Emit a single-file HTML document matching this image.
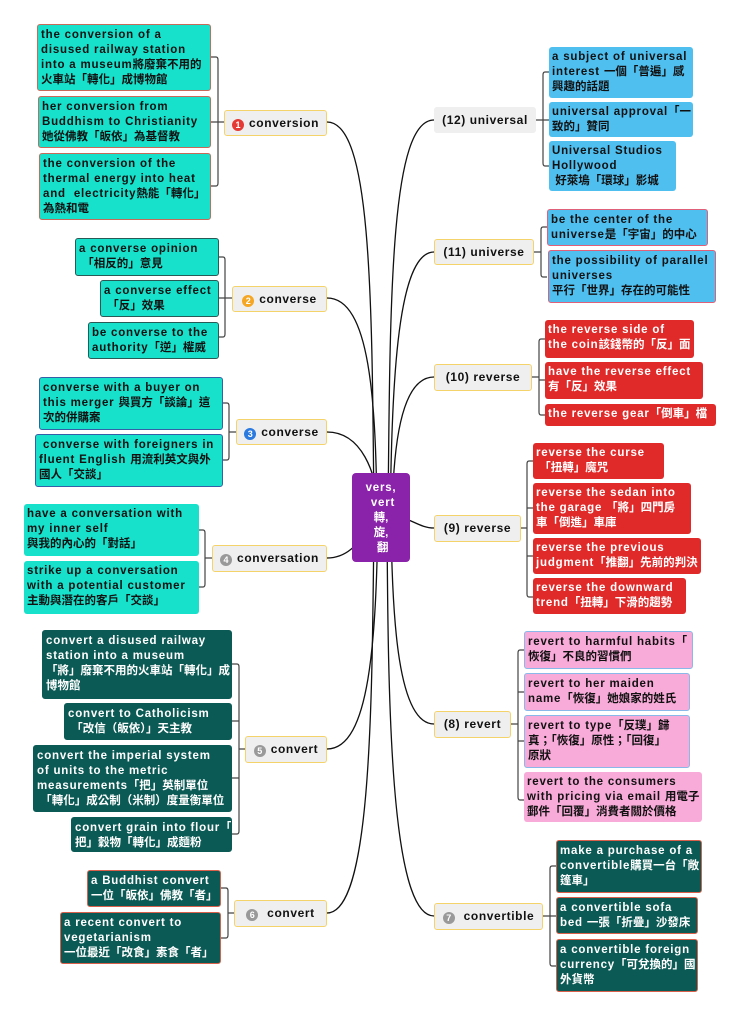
<!DOCTYPE html>
<html><head><meta charset="utf-8"><style>
body{margin:0;width:740px;height:1016px;background:#fff;position:relative;overflow:hidden}
.b{position:absolute;font:bold 11.5px/15px "Liberation Sans","Noto Sans CJK TC",sans-serif;letter-spacing:0.8px;padding:3px 3px;border-radius:3px;box-sizing:border-box;color:#111;white-space:nowrap;overflow:hidden}
i{font-style:normal;letter-spacing:0}
.t{background:#17e0cb;border:1px solid #c76a5a}
.t2{background:#17e0cb;border:1px solid #2a5a55}
.t3{background:#17e0cb;border:1px solid #3560a8}
.t4{background:#17e0cb;border:none}
.s{background:#4fbff0}
.s2{background:#4fbff0;border:1px solid #e0607a}
.r{background:#e02a2a;color:#fff}
.p{background:#f8aad8;border:1px solid #8ab8e8}
.p2{background:#f8aad8}
.d{background:#0c5a55;color:#fff;border:1px solid #0c5a55}
.d2{background:#0c5a55;color:#fff;border:1px solid #d9604a}
.n{position:absolute;background:#efefef;border:1.5px solid #f5d36b;border-radius:3px;box-sizing:border-box;font:bold 12px/24px "Liberation Sans",sans-serif;letter-spacing:0.6px;color:#111;text-align:center;white-space:nowrap}
.c{display:inline-block;width:12px;height:12px;border-radius:6px;color:#fff;font-size:9px;line-height:12px;text-align:center;margin-right:5px;vertical-align:-1px;letter-spacing:0}
</style></head><body>
<svg width="740" height="1016" style="position:absolute;left:0;top:0" fill="none">
<g stroke="#111" stroke-width="1.3">
<path d="M327 122 C372 122,372 300,374 518"/>
<path d="M327 298 C370 298,376 400,377 518"/>
<path d="M327 432 C360 432,378 470,379 518"/>
<path d="M327 558 C350 558,360 540,378 518"/>
<path d="M327 749 C370 749,376 640,378 518"/>
<path d="M327 913 C372 913,372 700,374 518"/>
<path d="M434 120 C390 120,390 300,388 518"/>
<path d="M434 252 C395 252,392 400,390 518"/>
<path d="M434 377 C400 377,393 450,392 518"/>
<path d="M434 528 C420 528,410 518,400 518"/>
<path d="M434 724 C398 724,392 620,391 518"/>
<path d="M434 916 C390 916,388 700,387 518"/>
</g>
<g stroke="#444" stroke-width="1.2">
<path d="M224 122H218M211 57h5q2 0 2 3v123q0 3-2 3h-5M211 122h7"/>
<path d="M232 298H225M219 257h4q2 0 2 3v74q0 3-2 3h-4M219 298h6"/>
<path d="M236 432H229M223 403h4q2 0 2 3v51q0 3-2 3h-4"/>
<path d="M212 558H205M199 530h4q2 0 2 3v51q0 3-2 3h-4"/>
<path d="M245 749H239M232 664h5q2 0 2 3v164q0 3-2 3h-5M232 721h7M232 778h7"/>
<path d="M234 913H228M221 888h5q2 0 2 3v44q0 3-2 3h-5"/>
<path d="M536 120H543M549 72h-4q-2 0-2 3v88q0 3 2 3h4M549 120h-6"/>
<path d="M534 252H541M547 227h-4q-2 0-2 3v44q0 3 2 3h4"/>
<path d="M532 377H539M545 339h-4q-2 0-2 3v70q0 3 2 3h4M545 380h-6"/>
<path d="M521 528H527M533 461h-4q-2 0-2 3v130q0 3 2 3h4M533 508h-6M533 556h-6"/>
<path d="M511 724H518M524 650h-4q-2 0-2 3v144q0 3 2 3h4M524 692h-6M524 741h-6"/>
<path d="M543 916H550M556 866h-4q-2 0-2 3v94q0 3 2 3h4M556 916h-6"/>
</g>
</svg>

<div class="b" style="left:352px;top:473px;width:58px;height:89px;background:#8a22aa;color:#fff;text-align:center;padding-top:8px;border-radius:4px">vers,<br>&nbsp;vert<br><i>轉,<br>旋,<br>&nbsp;翻</i></div>

<div class="n" style="left:224px;top:110px;width:103px;height:26px"><span class="c" style="background:#e53935">1</span>conversion</div>
<div class="b t" style="left:37px;top:24px;width:174px;height:67px">the conversion of a<br>disused railway station<br>into a museum<i>將廢棄不用的<br>火車站「轉化」成博物館</i></div>
<div class="b t" style="left:38px;top:96px;width:173px;height:52px">her conversion from<br>Buddhism to Christianity<br><i>她從佛教「皈依」為基督教</i></div>
<div class="b t" style="left:39px;top:153px;width:172px;height:67px">the conversion of the<br>thermal energy into heat<br>and&nbsp; electricity<i>熱能「轉化」<br>為熱和電</i></div>

<div class="n" style="left:232px;top:286px;width:95px;height:26px"><span class="c" style="background:#f5a623">2</span>converse</div>
<div class="b t2" style="left:75px;top:238px;width:144px;height:38px">a converse opinion<br><i>&nbsp;「相反的」意見</i></div>
<div class="b t2" style="left:100px;top:280px;width:119px;height:37px">a converse effect<br><i>&nbsp;「反」效果</i></div>
<div class="b t2" style="left:88px;top:322px;width:131px;height:37px">be converse to the<br>authority<i>「逆」權威</i></div>

<div class="n" style="left:236px;top:419px;width:91px;height:26px"><span class="c" style="background:#2a7ae0">3</span>converse</div>
<div class="b t3" style="left:39px;top:377px;width:184px;height:53px">converse with a buyer on<br>this merger <i>與買方「談論」這<br>次的併購案</i></div>
<div class="b t3" style="left:35px;top:434px;width:188px;height:53px">&nbsp;converse with foreigners in<br>fluent English <i>用流利英文與外<br>國人「交談」</i></div>

<div class="n" style="left:212px;top:545px;width:115px;height:27px"><span class="c" style="background:#999">4</span>conversation</div>
<div class="b t4" style="left:24px;top:504px;width:175px;height:52px">have a conversation with<br>my inner self<br><i>與我的內心的「對話」</i></div>
<div class="b t4" style="left:24px;top:561px;width:175px;height:53px">strike up a conversation<br>with a potential customer<br><i>主動與潛在的客戶「交談」</i></div>

<div class="n" style="left:245px;top:736px;width:82px;height:27px"><span class="c" style="background:#999">5</span>convert</div>
<div class="b d" style="left:42px;top:630px;width:190px;height:69px">convert a disused railway<br>station into a museum<br><i>「將」廢棄不用的火車站「轉化」成<br>博物館</i></div>
<div class="b d" style="left:64px;top:703px;width:168px;height:37px">convert to Catholicism<br><i>&nbsp;「改信（皈依）」天主教</i></div>
<div class="b d" style="left:33px;top:745px;width:199px;height:67px">convert the imperial system<br>of units to the metric<br>measurements<i>「把」英制單位<br>&nbsp;「轉化」成公制（米制）度量衡單位</i></div>
<div class="b d" style="left:71px;top:817px;width:161px;height:35px">convert grain into flour<i>「<br>把」穀物「轉化」成麵粉</i></div>

<div class="n" style="left:234px;top:900px;width:93px;height:27px"><span class="c" style="background:#999">6</span>&nbsp;convert</div>
<div class="b d2" style="left:87px;top:870px;width:134px;height:37px">a Buddhist convert<br><i>一位「皈依」佛教「者」</i></div>
<div class="b d2" style="left:60px;top:912px;width:161px;height:52px">a recent convert to<br>vegetarianism<br><i>一位最近「改食」素食「者」</i></div>

<div class="n" style="left:434px;top:107px;width:102px;height:26px;border-color:#efefef">(12) universal</div>
<div class="b s" style="left:549px;top:47px;width:144px;height:51px">a subject of universal<br>interest <i>一個「普遍」感<br>興趣的話題</i></div>
<div class="b s" style="left:549px;top:102px;width:144px;height:35px">universal approval<i>「一<br>致的」贊同</i></div>
<div class="b s" style="left:549px;top:141px;width:127px;height:50px">Universal Studios<br>Hollywood<br><i>&nbsp;好萊塢「環球」影城</i></div>

<div class="n" style="left:434px;top:239px;width:100px;height:26px">(11) universe</div>
<div class="b s2" style="left:547px;top:209px;width:161px;height:37px">be the center of the<br>universe<i>是「宇宙」的中心</i></div>
<div class="b s2" style="left:548px;top:250px;width:168px;height:53px">the possibility of parallel<br>universes<br><i>平行「世界」存在的可能性</i></div>

<div class="n" style="left:434px;top:364px;width:98px;height:27px">(10) reverse</div>
<div class="b r" style="left:545px;top:320px;width:149px;height:38px">the reverse side of<br>the coin<i>該錢幣的「反」面</i></div>
<div class="b r" style="left:545px;top:362px;width:158px;height:37px">have the reverse effect<br><i>有「反」效果</i></div>
<div class="b r" style="left:545px;top:404px;width:171px;height:22px">the reverse gear<i>「倒車」檔</i></div>

<div class="n" style="left:434px;top:515px;width:87px;height:27px">(9) reverse</div>
<div class="b r" style="left:533px;top:443px;width:131px;height:36px">reverse the curse<br><i>&nbsp;「扭轉」魔咒</i></div>
<div class="b r" style="left:533px;top:483px;width:158px;height:51px">reverse the sedan into<br>the garage <i>「將」四門房<br>車「倒進」車庫</i></div>
<div class="b r" style="left:533px;top:538px;width:168px;height:36px">reverse the previous<br>judgment<i>「推翻」先前的判決</i></div>
<div class="b r" style="left:533px;top:578px;width:153px;height:36px">reverse the downward<br>trend<i>「扭轉」下滑的趨勢</i></div>

<div class="n" style="left:434px;top:711px;width:77px;height:27px">(8) revert</div>
<div class="b p" style="left:524px;top:631px;width:169px;height:38px">revert to harmful habits<i>「<br>恢復」不良的習慣們</i></div>
<div class="b p" style="left:524px;top:673px;width:166px;height:38px">revert to her maiden<br>name<i>「恢復」她娘家的姓氏</i></div>
<div class="b p" style="left:524px;top:715px;width:166px;height:53px">revert to type<i>「反璞」歸<br>真；「恢復」原性；「回復」<br>原狀</i></div>
<div class="b p2" style="left:524px;top:772px;width:178px;height:50px">revert to the consumers<br>with pricing via email <i>用電子<br>郵件「回覆」消費者關於價格</i></div>

<div class="n" style="left:434px;top:903px;width:109px;height:27px"><span class="c" style="background:#999">7</span>&nbsp;convertible</div>
<div class="b d2" style="left:556px;top:840px;width:146px;height:53px">make a purchase of a<br>convertible<i>購買一台「敞<br>篷車」</i></div>
<div class="b d2" style="left:556px;top:897px;width:142px;height:37px">a convertible sofa<br>bed <i>一張「折疊」沙發床</i></div>
<div class="b d2" style="left:556px;top:939px;width:142px;height:53px">a convertible foreign<br>currency<i>「可兌換的」國<br>外貨幣</i></div>
</body></html>
